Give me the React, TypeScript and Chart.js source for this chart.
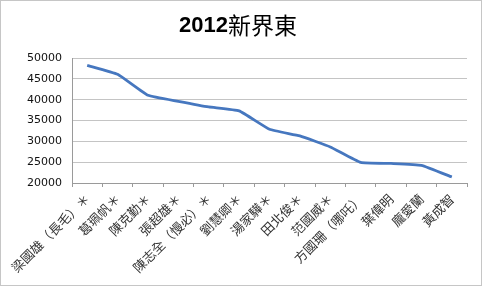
import React, { useEffect, useRef } from "react";
import { Chart, registerables } from "chart.js";

Chart.register(...registerables);

const titleYear = "2012";
const titleRegion = "新界東";
const categories = [
  "梁國雄（長毛）＊",
  "葛珮帆＊",
  "陳克勤＊",
  "張超雄＊",
  "陳志全（慢必）＊",
  "劉慧卿＊",
  "湯家驊＊",
  "田北俊＊",
  "范國威＊",
  "方國珊（哪吒）",
  "葉偉明",
  "龐愛蘭",
  "黃成智",
];
const votes = [48250, 46100, 41050, 39600, 38250, 37300, 32900, 31300, 28650, 24950, 24700, 24250, 21450];
const yMin = 20000;
const yMax = 50000;
const yStep = 5000;

const frameAndTitle = {
  id: "frameAndTitle",
  afterDraw(chart: any) {
    const ctx = chart.ctx as CanvasRenderingContext2D;
    ctx.save();
    ctx.strokeStyle = "#8c8c8c";
    ctx.lineWidth = 1;
    ctx.setLineDash([1, 1]);
    ctx.strokeRect(0.5, 0.5, chart.width - 1, chart.height - 1);
    ctx.setLineDash([]);
    const boldFont = 'bold 22px "Liberation Sans", Arial, sans-serif';
    const normFont = '23px "Noto Sans CJK TC", "Noto Sans CJK SC", sans-serif';
    ctx.font = boldFont;
    const w1 = ctx.measureText(titleYear).width;
    ctx.font = normFont;
    const w2 = ctx.measureText(titleRegion).width;
    const cx = 238;
    const x0 = cx - (w1 + w2) / 2;
    const y = 25;
    ctx.fillStyle = "#000";
    ctx.textBaseline = "middle";
    ctx.textAlign = "left";
    ctx.font = boldFont;
    ctx.fillText(titleYear, x0, y + 1);
    ctx.font = normFont;
    ctx.fillText(titleRegion, x0 + w1, y);
    ctx.restore();
  },
};

export default function App() {
  const ref = useRef<HTMLCanvasElement | null>(null);
  useEffect(() => {
    document.body.style.margin = "0";
    if (!ref.current) return;
    const chart = new Chart(ref.current, {
      type: "line",
      data: {
        labels: categories,
        datasets: [
          {
            data: votes,
            borderColor: "#4677BF",
            borderWidth: 2.8,
            pointRadius: 0,
            tension: 0.12,
            fill: false,
          },
        ],
      },
      plugins: [frameAndTitle],
      options: {
        animation: false,
        responsive: false,
        layout: { padding: { top: 58, right: 15, left: 0, bottom: 0 } },
        plugins: {
          legend: { display: false },
          title: { display: false },
          tooltip: { enabled: false },
        },
        scales: {
          x: {
            offset: true,
            afterFit: (s: any) => {
              s.height = 103;
            },
            grid: {
              offset: true,
              drawOnChartArea: false,
              drawTicks: true,
              tickLength: 4,
              color: "#9a9a9a",
            },
            border: { color: "#9a9a9a" },
            ticks: {
              autoSkip: false,
              maxRotation: 45,
              minRotation: 45,
              padding: 4,
              color: "#333",
              font: { family: '"Noto Sans CJK TC", "Noto Sans CJK SC", sans-serif', size: 13 },
            },
          },
          y: {
            min: yMin,
            max: yMax,
            afterFit: (s: any) => {
              s.width = 72;
            },
            grid: { color: "#c4c4c4", drawTicks: false },
            border: { color: "#9a9a9a" },
            ticks: {
              stepSize: yStep,
              padding: 10,
              color: "#111",
              font: { family: '"DejaVu Sans", sans-serif', size: 11 },
              callback: (v: any) => String(v),
            },
          },
        },
      },
    });
    return () => chart.destroy();
  }, []);
  return <canvas ref={ref} width={482} height={286} style={{ display: "block" }} />;
}
